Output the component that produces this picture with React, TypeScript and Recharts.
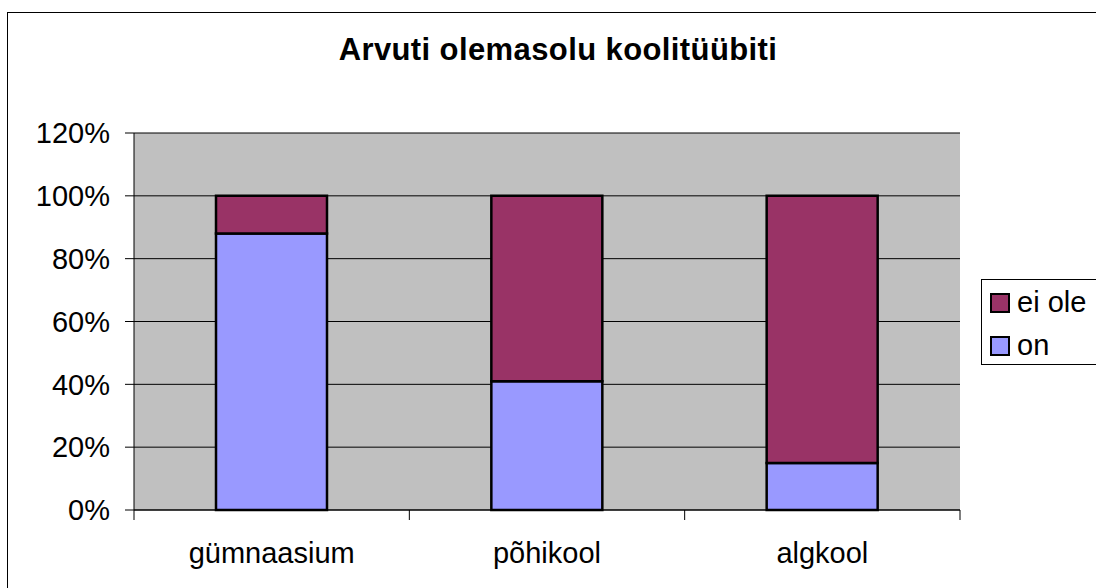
import { Bar, BarChart, CartesianGrid, Legend, XAxis, YAxis } from "recharts";

const categories = ["gümnaasium", "põhikool", "algkool"];
const onValues = [0.88, 0.41, 0.15];
const eiOleValues = [0.12, 0.59, 0.85];
const yTicks = [0, 0.2, 0.4, 0.6, 0.8, 1.0, 1.2];

const data = categories.map((name, i) => ({
  name,
  on: onValues[i],
  eiOle: eiOleValues[i]
}));

const FONT = "'Liberation Sans', Arial, sans-serif";

const legendItems = [
  { label: "ei ole", color: "#993366" },
  { label: "on", color: "#9999FF" }
];

function CategoryTick(props: any) {
  const { x, y, payload, index, visibleTicksCount } = props;
  const half = payload?.offset ?? 137.7;
  const last = index === (visibleTicksCount ?? categories.length) - 1;
  return (
    <g>
      <line x1={x - half} x2={x - half} y1={y - 10} y2={y} stroke="#000" />
      {last && <line x1={x + half} x2={x + half} y1={y - 10} y2={y} stroke="#000" />}
      <text x={x} y={y + 43} textAnchor="middle" fill="#000" fontSize={29} fontFamily={FONT}>
        {payload.value}
      </text>
    </g>
  );
}

function LegendBox() {
  return (
    <div
      style={{
        border: "1px solid #000",
        background: "#fff",
        width: 140,
        height: 86,
        boxSizing: "border-box",
        fontFamily: FONT,
        fontSize: 29,
        paddingTop: 1,
        paddingLeft: 8
      }}
    >
      {legendItems.map((item) => (
        <div key={item.label} style={{ display: "flex", alignItems: "center", height: 43 }}>
          <span
            style={{
              width: 16,
              height: 16,
              background: item.color,
              border: "2px solid #000",
              display: "inline-block",
              marginRight: 7
            }}
          />
          <span>{item.label}</span>
        </div>
      ))}
    </div>
  );
}

export default function App() {
  return (
    <div
      style={{
        position: "absolute",
        left: 0,
        top: 0,
        width: 1096,
        height: 588,
        overflow: "hidden",
        background: "#fff"
      }}
    >
      <div
        style={{
          position: "absolute",
          left: 7,
          top: 12,
          width: 1120,
          height: 620,
          border: "1px solid #000"
        }}
      />
      <div
        style={{
          position: "absolute",
          left: 0,
          width: 1116,
          top: 35,
          textAlign: "center",
          fontFamily: FONT,
          fontWeight: "bold",
          fontSize: 31,
          letterSpacing: 0.4,
          lineHeight: "30px"
        }}
      >
        Arvuti olemasolu koolitüübiti
      </div>
      <BarChart
        width={1096}
        height={588}
        data={data}
        margin={{ top: 133, right: 136, bottom: 0, left: 0 }}
        barSize={111}
        style={{ position: "absolute", left: 0, top: 0 }}
      >
        <CartesianGrid vertical={false} stroke="#000" fill="#C0C0C0" fillOpacity={1} />
        <XAxis
          dataKey="name"
          height={78}
          tickLine={false}
          tickSize={10}
          tickMargin={0}
          axisLine={{ stroke: "#000" }}
          tick={<CategoryTick />}
          interval={0}
        />
        <XAxis xAxisId="top" orientation="top" dataKey="name" height={0} tick={false} tickLine={false} axisLine={{ stroke: "#808080", strokeWidth: 2 }} />
        <YAxis
          width={134}
          domain={[0, 1.2]}
          ticks={yTicks}
          interval={0}
          tickFormatter={(v: number) => `${Math.round(v * 100)}%`}
          tickSize={9}
          tickMargin={15}
          tickLine={{ stroke: "#000" }}
          axisLine={{ stroke: "#000" }}
          tick={{ fill: "#000", fontSize: 29, fontFamily: FONT }}
        />
        <YAxis yAxisId="right" orientation="right" width={0} tick={false} tickLine={false} axisLine={{ stroke: "#808080", strokeWidth: 2 }} />
        <Legend
          layout="horizontal"
          align="center"
          verticalAlign="middle"
          content={<LegendBox />}
          wrapperStyle={{ left: 981, top: 279, width: 140 }}
        />
        <Bar dataKey="on" stackId="s" fill="#9999FF" stroke="#000" strokeWidth={2.5} isAnimationActive={false} />
        <Bar dataKey="eiOle" stackId="s" fill="#993366" stroke="#000" strokeWidth={2.5} isAnimationActive={false} />
      </BarChart>
    </div>
  );
}
